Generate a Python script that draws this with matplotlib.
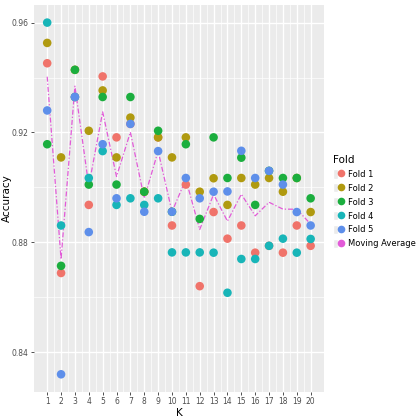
import matplotlib
matplotlib.use("Agg")
import matplotlib.pyplot as plt
from matplotlib.lines import Line2D
from matplotlib.patches import Patch
from matplotlib.legend_handler import HandlerTuple
import numpy as np

k_values = list(range(1, 21))

fold1 = [0.9452, 0.8688, 0.9329, 0.8936, 0.9404, 0.9182, 0.9231, 0.8984, 0.9182, 0.8861,
         0.9010, 0.8640, 0.8910, 0.8813, 0.8861, 0.8762, 0.8787, 0.8762, 0.8861, 0.8787]
fold2 = [0.9526, 0.9109, 0.9428, 0.9206, 0.9353, 0.9109, 0.9254, 0.8984, 0.9182, 0.9109,
         0.9182, 0.8984, 0.9033, 0.8936, 0.9034, 0.9010, 0.9034, 0.8984, 0.9034, 0.8910]
fold3 = [0.9157, 0.8714, 0.9428, 0.9010, 0.9329, 0.9010, 0.9329, 0.8984, 0.9206, 0.8911,
         0.9157, 0.8885, 0.9182, 0.9034, 0.9108, 0.8936, 0.9060, 0.9034, 0.9034, 0.8960]
fold4 = [0.9600, 0.8861, 0.9329, 0.9034, 0.9132, 0.8936, 0.8960, 0.8936, 0.8960, 0.8763,
         0.8763, 0.8763, 0.8762, 0.8616, 0.8739, 0.8739, 0.8787, 0.8813, 0.8762, 0.8812]
fold5 = [0.9280, 0.8319, 0.9329, 0.8837, 0.9157, 0.8960, 0.9231, 0.8911, 0.9132, 0.8911,
         0.9034, 0.8960, 0.8984, 0.8985, 0.9133, 0.9034, 0.9060, 0.9010, 0.8910, 0.8861]

fold_names = ["Fold 1", "Fold 2", "Fold 3", "Fold 4", "Fold 5"]
folds = [fold1, fold2, fold3, fold4, fold5]
colors = ["#F0736A", "#B09A10", "#1BAE3E", "#18B5B8", "#5E8FEA"]
avg_color = "#E25BD8"

# moving average = mean accuracy across folds for each K
avg = np.mean(np.array(folds), axis=0)

fig = plt.figure(figsize=(4.2, 4.2), dpi=100)
ax = fig.add_axes([0.081, 0.067, 0.69, 0.921])
ax.set_facecolor("#EBEBEB")

ax.plot(k_values, avg, color=avg_color, lw=0.9, dashes=(4, 1.6, 1, 1.6), zorder=2)
for name, vals, col in zip(fold_names, folds, colors):
    ax.scatter(k_values, vals, s=38, color=col, edgecolors="none", zorder=3)

ax.set_xlim(0.05, 20.95)
ax.set_ylim(0.8255, 0.9664)
ax.set_xticks(k_values)
ax.set_xticks(np.arange(1.5, 20, 1), minor=True)
ax.set_yticks([0.84, 0.88, 0.92, 0.96])
ax.set_yticks([0.86, 0.90, 0.94], minor=True)
ax.set_yticklabels(["0.84", "0.88", "0.92", "0.96"])
ax.grid(which="major", color="white", lw=1.0)
ax.grid(which="minor", color="white", lw=0.5)
ax.set_axisbelow(True)
for s in ax.spines.values():
    s.set_visible(False)
ax.tick_params(which="major", length=2.5, width=0.6, color="#333333",
               labelsize=5.5, labelcolor="#4D4D4D", pad=1.5)
ax.tick_params(which="minor", length=0)
ax.set_xlabel("K", fontsize=7.5, labelpad=1)
ax.set_ylabel("Accuracy", fontsize=7.5, labelpad=2)
ax.yaxis.set_label_coords(-0.075, 0.5)

handles = []
for col in colors + [avg_color]:
    key = Patch(facecolor="#EBEBEB", edgecolor="white")
    mark = Line2D([], [], color=col, lw=0.9, dashes=(2, 1, 1, 1),
                  marker="o", markersize=5.5, markeredgewidth=0)
    handles.append((key, mark))
leg = fig.legend(handles, fold_names + ["Moving Average"], title="Fold",
                 loc="center left", bbox_to_anchor=(0.785, 0.52),
                 handler_map={tuple: HandlerTuple(ndivide=None, pad=0)},
                 frameon=False, fontsize=6, title_fontsize=7.5,
                 handlelength=1.3, handleheight=1.3, labelspacing=0.55,
                 handletextpad=0.5, borderaxespad=0)
leg._legend_box.align = "left"

fig.savefig("out.png", dpi=100)
